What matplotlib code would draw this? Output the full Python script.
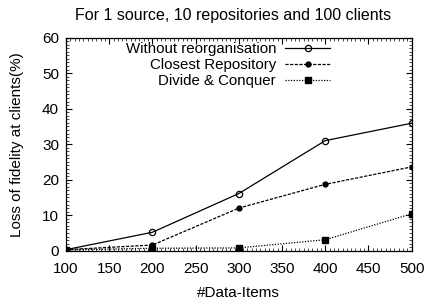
import matplotlib
matplotlib.use('Agg')
import matplotlib.pyplot as plt
from matplotlib.ticker import MultipleLocator

plt.rcParams['font.family'] = ['Liberation Sans', 'DejaVu Sans']

items = [100, 200, 300, 400, 500]
without_reorg = [0.3, 5.2, 16.1, 31.0, 35.9]
closest_repo = [0.3, 1.6, 12.0, 18.7, 23.6]
divide_conquer = [0.2, 0.7, 0.8, 3.1, 10.4]

fig = plt.figure(figsize=(4.27, 3.01), dpi=100)
ax = fig.add_axes([0.1546, 0.167, 0.8094, 0.708])

ax.plot(items, without_reorg, color='black', lw=0.9, ls='-', marker='o',
        mfc='none', mec='black', ms=4.5, mew=0.9, label='Without reorganisation')
ax.plot(items, closest_repo, color='black', lw=0.9, ls=(0, (2.5, 1.2)), marker='o',
        mfc='black', mec='black', ms=3.5, label='Closest Repository')
ax.plot(items, divide_conquer, color='black', lw=0.9, ls=(0, (1, 1.2)), marker='s',
        mfc='black', mec='black', ms=4, label='Divide & Conquer')

ax.set_xlim(100, 500)
ax.set_ylim(0, 60)
ax.xaxis.set_major_locator(MultipleLocator(50))
ax.yaxis.set_major_locator(MultipleLocator(10))
ax.xaxis.set_minor_locator(MultipleLocator(5))
ax.yaxis.set_minor_locator(MultipleLocator(1))
ax.tick_params(which='both', direction='in', top=True, right=True, labelsize=11)
ax.tick_params(axis='x', which='major', pad=8)
ax.tick_params(axis='y', which='major', pad=5)
ax.tick_params(which='major', length=4, width=0.8)
ax.tick_params(which='minor', length=2, width=0.5)
for s in ax.spines.values():
    s.set_linewidth(0.9)

ax.set_xlabel('#Data-Items', fontsize=11, labelpad=7)
ax.set_ylabel('Loss of fidelity at clients(%)', fontsize=11, labelpad=13)
fig.text(0.545, 0.95, 'For 1 source, 10 repositories and 100 clients',
         fontsize=11.5, ha='center', va='center')

leg = ax.legend(loc='upper right', bbox_to_anchor=(0.773, 0.860),
                bbox_transform=fig.transFigure, frameon=False,
                markerfirst=False, fontsize=10.8, handlelength=3.0, labelspacing=0.13,
                borderaxespad=0, borderpad=0, handletextpad=0.6)
for t in leg.get_texts():
    t.set_ha('right')
leg._legend_box.align = 'right'

fig.savefig('out.png', dpi=100)
